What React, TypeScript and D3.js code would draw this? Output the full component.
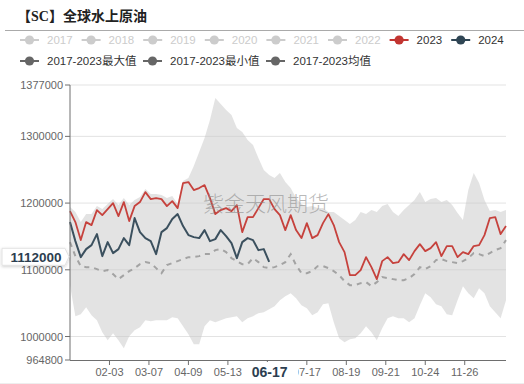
import React from 'react';
import * as d3 from 'd3';

// ---- data (sampled every 3rd trading-day category) ----
const SAMPLE_STEP = 3;
const LAST_INDEX = 243;
const Y_MIN = 964800;
const Y_MAX = 1377000;
const yTickValues = [964800, 1000000, 1100000, 1200000, 1300000, 1377000];
const xTickLabels = ['02-03', '03-07', '04-09', '05-13', '06-17', '07-17', '08-19', '09-21', '10-24', '11-26'];
const X_TICK_EVERY = 22;

const legendYears = ['2017', '2018', '2019', '2020', '2021', '2022', '2023', '2024'];
const legendYearColors = ['#ccc', '#ccc', '#ccc', '#ccc', '#ccc', '#ccc', '#c23531', '#2f4554'];
const legendStats = ['2017-2023最大值', '2017-2023最小值', '2017-2023均值'];

const series2023 = [
  1188000, 1171500, 1144500, 1171500, 1167000, 1189500, 1182000, 1191000, 1200000, 1180500,
  1201500, 1173000, 1195500, 1201500, 1216500, 1206000, 1207500, 1206000, 1195500, 1203000,
  1192500, 1230000, 1231500, 1219500, 1222500, 1227000, 1207500, 1183500, 1189500, 1192500,
  1188000, 1197000, 1156500, 1179000, 1179000, 1192500, 1206000, 1206000, 1191000, 1182000,
  1159500, 1182000, 1159500, 1147500, 1170000, 1147500, 1152000, 1170000, 1183500, 1167000,
  1141500, 1126500, 1092000, 1092000, 1099500, 1119000, 1104000, 1086000, 1113000, 1119000,
  1110000, 1111500, 1123500, 1114500, 1128000, 1138500, 1128000, 1132500, 1141500, 1120500,
  1135500, 1135500, 1119000, 1126500, 1123500, 1135500, 1137000, 1152000, 1177500, 1179000,
  1153500, 1165500,
];

const series2024 = [
  1171500, 1143000, 1119000, 1131000, 1137000, 1153500, 1120500, 1141500, 1125000, 1131000,
  1147500, 1137000, 1177500, 1156500, 1147500, 1143000, 1123500, 1156500, 1162500, 1176000,
  1183500, 1165500, 1152000, 1149000, 1147500, 1159500, 1143000, 1146000, 1159500, 1150500,
  1140000, 1117500, 1141500, 1147500, 1144500, 1129500, 1131000, 1112000,
];

const seriesMean = [
  1141500, 1120500, 1105500, 1104000, 1104000, 1101000, 1098000, 1099500, 1093500, 1086000,
  1092000, 1098000, 1102500, 1108500, 1111500, 1110000, 1102500, 1095000, 1107000, 1110000,
  1113000, 1116000, 1119000, 1119000, 1120500, 1123500, 1123500, 1129500, 1131000, 1126500,
  1117500, 1113000, 1108500, 1108500, 1117500, 1111500, 1104000, 1102500, 1104000, 1107000,
  1111500, 1123500, 1107000, 1095000, 1095000, 1098000, 1105500, 1105500, 1102500, 1098000,
  1092000, 1083000, 1077000, 1077000, 1080000, 1081500, 1075500, 1081500, 1089000, 1087500,
  1086000, 1084500, 1084500, 1087500, 1093500, 1104000, 1101000, 1105500, 1114500, 1116000,
  1113000, 1111500, 1110000, 1113000, 1117500, 1125000, 1123500, 1120500, 1125000, 1129500,
  1132500, 1144500,
];

const seriesMax = [
  1194000, 1186500, 1171500, 1183500, 1183500, 1195500, 1191000, 1198500, 1206000, 1197000,
  1207500, 1197000, 1204500, 1209000, 1221000, 1213500, 1213500, 1212000, 1207500, 1210500,
  1198500, 1233000, 1237500, 1255500, 1276500, 1297500, 1324500, 1357500, 1348500, 1339500,
  1332000, 1312500, 1306500, 1294500, 1287000, 1267500, 1249500, 1242000, 1237500, 1245000,
  1231500, 1222500, 1207500, 1198500, 1194000, 1195500, 1192500, 1192500, 1186500, 1186500,
  1180500, 1174500, 1168500, 1174500, 1186500, 1183500, 1189500, 1186500, 1195500, 1198500,
  1186500, 1180500, 1189500, 1197000, 1204500, 1216500, 1201500, 1206000, 1207500, 1201500,
  1204500, 1197000, 1185000, 1174500, 1219500, 1245000, 1230000, 1204500, 1188000, 1189500,
  1186500, 1189500,
];

const seriesMin = [
  1077000, 1030500, 1033500, 1044000, 1032000, 1024500, 1006500, 994500, 1005000, 994500,
  982500, 1000500, 1009500, 1014000, 1024500, 1023000, 1024500, 1024500, 1024500, 1029000,
  1027500, 1015500, 1003500, 988500, 988500, 1015500, 1024500, 1021500, 1024500, 1027500,
  1029000, 1030500, 1021500, 1027500, 1030500, 1035000, 1036500, 1041000, 1045500, 1054500,
  1060500, 1065000, 1057500, 1047000, 1042500, 1032000, 1036500, 1048500, 1050000, 1021500,
  997500, 991500, 996000, 997500, 1005000, 1015500, 1006500, 994500, 1012500, 1027500,
  1030500, 1027500, 1027500, 1021500, 1027500, 1047000, 1065000, 1059000, 1048500, 1045500,
  1033500, 1032000, 1054500, 1075500, 1065000, 1057500, 1072500, 1065000, 1045500, 1036500,
  1027500, 1054500,
];

const pointerXLabel = '06-17';

const FONT = '"Liberation Sans", Arial, "Noto Sans CJK SC", sans-serif';

export default function App() {
  const W = 524;
  const H = 384;
  const plot = { left: 70, right: 506, top: 85, bottom: 360 };

  const x = d3.scaleLinear().domain([0, LAST_INDEX]).range([plot.left, plot.right]);
  const y = d3.scaleLinear().domain([Y_MIN, Y_MAX]).range([plot.bottom, plot.top]);
  const xi = (i: number) => x(i * SAMPLE_STEP);

  const band = d3
    .area<number>()
    .x((_, i) => xi(i))
    .y0((_, i) => y(seriesMin[i]))
    .y1((d) => y(d));
  const line = d3
    .line<number>()
    .x((_, i) => xi(i))
    .y((d) => y(d));

  const lastIdx = series2024.length - 1;
  const pointerX = xi(lastIdx);
  const pointerVal = series2024[lastIdx];
  const pointerY = y(pointerVal) - 5;

  const yAxisColor = '#6e6e6e';
  const labelColor = '#666';

  // legend layout
  const row1Y = 40;
  const row2Y = 61;
  const row1Step = 61.6;
  const row2Starts = [20, 143, 266];

  const legendIcon = (x0: number, yy: number, color: string) => (
    <g>
      <line x1={x0} x2={x0 + 19} y1={yy} y2={yy} stroke={color} strokeWidth={2} />
      <circle cx={x0 + 9.5} cy={yy} r={4.6} fill={color} />
    </g>
  );

  return (
    <svg
      width={W}
      height={H}
      style={{ position: 'absolute', left: 0, top: 0, display: 'block', background: '#fff' }}
      fontFamily={FONT}
    >
      <defs>
        <filter id="shadow" x="-20%" y="-40%" width="140%" height="180%">
          <feDropShadow dx="0" dy="1" stdDeviation="1.5" floodColor="#000" floodOpacity="0.18" />
        </filter>
      </defs>

      {/* title */}
      <text
        x={17}
        y={21}
        fontSize={14}
        fontWeight="bold"
        fill="#222"
        fontFamily='"Liberation Serif", "Noto Sans CJK SC", serif'
      >
        【SC】全球水上原油
      </text>
      <line x1={5} x2={524} y1={30.5} y2={30.5} stroke="#aaa" strokeWidth={1} />

      {/* legend row 1 */}
      {legendYears.map((name, i) => {
        const x0 = 20 + i * row1Step;
        const inactive = legendYearColors[i] === '#ccc';
        return (
          <g key={name}>
            {legendIcon(x0, row1Y, legendYearColors[i])}
            <text x={x0 + 27} y={row1Y + 4} fontSize={11.5} fill={inactive ? '#ccc' : '#333'}>
              {name}
            </text>
          </g>
        );
      })}
      {/* legend row 2 */}
      {legendStats.map((name, i) => {
        const x0 = row2Starts[i];
        return (
          <g key={name}>
            {legendIcon(x0, row2Y, '#666')}
            <text x={x0 + 27} y={row2Y + 4} fontSize={11.5} fill="#333">
              {name}
            </text>
          </g>
        );
      })}

      {/* grid lines */}
      {yTickValues
        .filter((v) => v !== Y_MIN)
        .map((v) => (
          <line key={'g' + v} x1={plot.left} x2={plot.right} y1={y(v)} y2={y(v)} stroke="#e3e3e3" strokeWidth={1} />
        ))}

      {/* min-max band */}
      <path d={band(seriesMax) || ''} fill="#c8c8c8" fillOpacity={0.5} stroke="none" />

      {/* lines */}
      <path d={line(series2023) || ''} fill="none" stroke="#c6423d" strokeWidth={1.8} strokeLinejoin="round" />
      <path d={line(series2024) || ''} fill="none" stroke="#3b505e" strokeWidth={2} strokeLinejoin="round" />
      <path
        d={line(seriesMean) || ''}
        fill="none"
        stroke="#a3a3a3"
        strokeWidth={2}
        strokeDasharray="5,5"
      />

      {/* watermark */}
      <text
        x={266}
        y={211}
        textAnchor="middle"
        fontSize={21}
        fill="#8a8a8a"
        fillOpacity={0.6}
        fontFamily='"Noto Sans CJK SC", sans-serif'
        fontWeight={300}
      >
        紫金天风期货
      </text>

      {/* y axis */}
      <line x1={plot.left} x2={plot.left} y1={plot.top} y2={plot.bottom} stroke={yAxisColor} strokeWidth={1} />
      {yTickValues.map((v) => (
        <g key={'y' + v}>
          <line x1={plot.left - 5} x2={plot.left} y1={y(v)} y2={y(v)} stroke={yAxisColor} />
          <text x={plot.left - 7} y={y(v) + 4} textAnchor="end" fontSize={11} fill={labelColor}>
            {v}
          </text>
        </g>
      ))}

      {/* x axis */}
      <line x1={plot.left} x2={plot.right} y1={plot.bottom + 0.5} y2={plot.bottom + 0.5} stroke={yAxisColor} strokeWidth={1} />
      {xTickLabels.map((lab, i) => {
        const px = x((i + 1) * X_TICK_EVERY);
        const hidden = lab === pointerXLabel;
        return (
          <g key={lab}>
            <line x1={px} x2={px} y1={plot.bottom} y2={plot.bottom + 5} stroke={yAxisColor} />
            {!hidden && (
              <text x={px} y={plot.bottom + 16} textAnchor="middle" fontSize={11} fill={labelColor}>
                {lab}
              </text>
            )}
          </g>
        );
      })}

      {/* pointer label on x axis */}
      <rect x={pointerX - 27} y={plot.bottom + 2} width={56} height={20} fill="#fff" />
      <text
        x={pointerX + 0.5}
        y={plot.bottom + 17}
        textAnchor="middle"
        fontSize={14}
        fontWeight="bold"
        fill="#2c3e50"
      >
        {pointerXLabel}
      </text>

      {/* pointer label on y axis */}
      <path
        d={`M2,${pointerY - 8.5} H65 L69,${pointerY} L65,${pointerY + 8.5} H2 Z`}
        fill="#fff"
        stroke="#e2e2e2"
        strokeWidth={1}
        filter="url(#shadow)"
      />
      <text x={36} y={pointerY + 5} textAnchor="middle" fontSize={13.5} fontWeight="bold" fill="#2c3e50">
        {pointerVal}
      </text>

      <line x1={0} x2={W} y1={383.5} y2={383.5} stroke="#eee" />
    </svg>
  );
}
